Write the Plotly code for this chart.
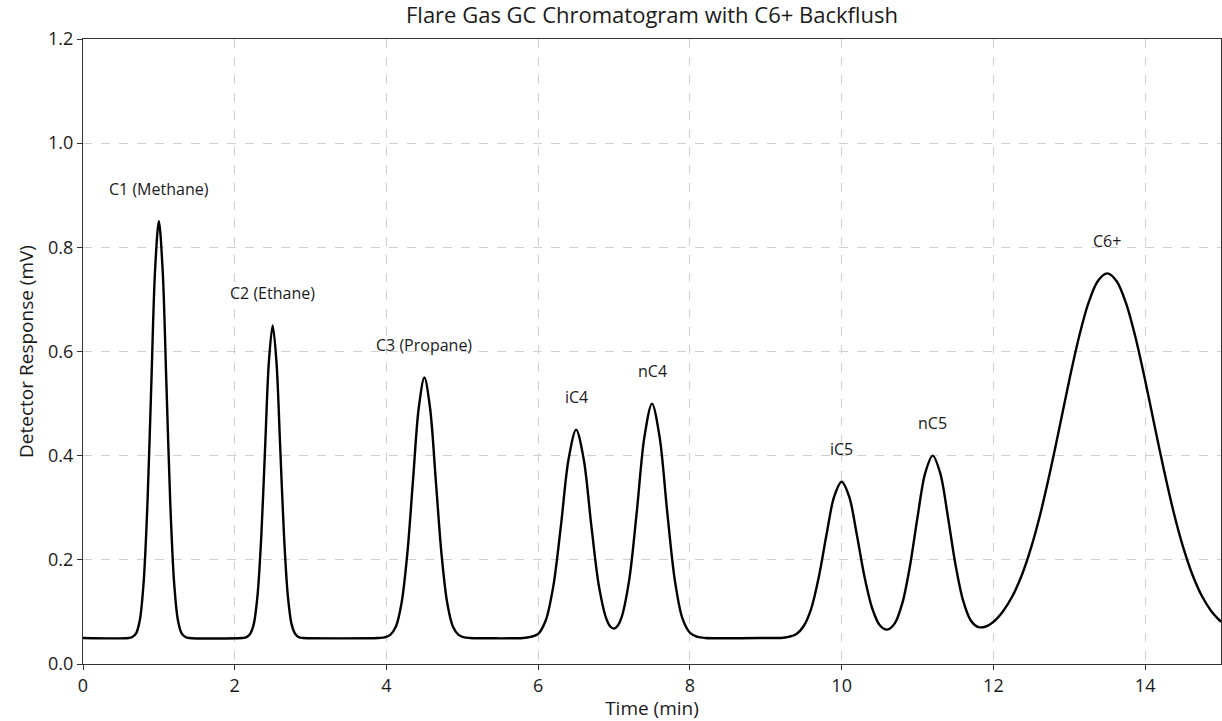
import plotly.graph_objects as go

# Detector trace (time in min, response in mV)
time_min = [
    0.0, 0.6, 0.65, 0.7, 0.75, 0.8, 0.85, 0.9, 0.95, 1.0, 1.05, 1.1, 1.15, 1.2, 1.25, 1.3, 1.35, 1.4,
    2.1, 2.15, 2.2, 2.25, 2.3, 2.35, 2.4, 2.45, 2.5, 2.55, 2.6, 2.65, 2.7, 2.75, 2.8, 2.85, 2.9,
    3.9, 3.975, 4.05, 4.125, 4.2, 4.275, 4.35, 4.425, 4.5, 4.575, 4.65, 4.725, 4.8, 4.875, 4.95, 5.025, 5.1,
    5.8, 5.9, 6.0, 6.1, 6.2, 6.3, 6.4, 6.5, 6.6, 6.7, 6.8, 6.9, 6.95, 7.0, 7.05, 7.1, 7.2, 7.3, 7.4,
    7.5, 7.6, 7.7, 7.8, 7.9, 8.0, 8.1, 8.2,
    9.1, 9.2, 9.3, 9.4, 9.5, 9.6, 9.7, 9.8, 9.9, 10.0, 10.1, 10.2, 10.3, 10.4, 10.5, 10.6, 10.7, 10.8,
    10.9, 11.0, 11.1, 11.2, 11.3, 11.4, 11.5, 11.6, 11.7, 11.8, 11.9, 12.0,
    12.125, 12.25, 12.375, 12.5, 12.625, 12.75, 12.875, 13.0, 13.125, 13.25, 13.375, 13.5,
    13.625, 13.75, 13.875, 14.0, 14.125, 14.25, 14.375, 14.5, 14.625, 14.75, 14.875, 15.0,
]
response_mv = [
    0.050, 0.050, 0.052, 0.059, 0.085, 0.158, 0.310, 0.535, 0.756, 0.850, 0.756, 0.535, 0.310, 0.158, 0.085, 0.059, 0.052, 0.050,
    0.050, 0.051, 0.057, 0.076, 0.131, 0.245, 0.414, 0.580, 0.650, 0.580, 0.414, 0.245, 0.131, 0.076, 0.057, 0.051, 0.050,
    0.050, 0.051, 0.056, 0.072, 0.118, 0.212, 0.353, 0.491, 0.550, 0.491, 0.353, 0.212, 0.118, 0.072, 0.056, 0.051, 0.050,
    0.050, 0.052, 0.058, 0.084, 0.150, 0.266, 0.393, 0.450, 0.393, 0.266, 0.150, 0.086, 0.072, 0.068, 0.074, 0.090, 0.162, 0.293, 0.436,
    0.500, 0.436, 0.293, 0.162, 0.088, 0.060, 0.052, 0.050,
    0.050, 0.050, 0.052, 0.057, 0.073, 0.107, 0.168, 0.248, 0.321, 0.350, 0.321, 0.248, 0.168, 0.108, 0.075, 0.066, 0.078, 0.117,
    0.188, 0.282, 0.366, 0.400, 0.366, 0.283, 0.191, 0.122, 0.084, 0.071, 0.072, 0.081,
    0.101, 0.130, 0.171, 0.225, 0.292, 0.371, 0.457, 0.545, 0.626, 0.692, 0.735, 0.750,
    0.735, 0.692, 0.626, 0.545, 0.457, 0.371, 0.292, 0.225, 0.171, 0.130, 0.101, 0.081,
]

# Peak labels
peak_names = ["C1 (Methane)", "C2 (Ethane)", "C3 (Propane)", "iC4", "nC4", "iC5", "nC5", "C6+"]
peak_times = [1.0, 2.5, 4.5, 6.5, 7.5, 10.0, 11.2, 13.5]
peak_heights = [0.85, 0.65, 0.55, 0.45, 0.50, 0.35, 0.40, 0.75]
label_offset = 0.062

x_ticks = [0, 2, 4, 6, 8, 10, 12, 14]
y_ticks = [0.0, 0.2, 0.4, 0.6, 0.8, 1.0, 1.2]

FONT = "Open Sans"
TXT = "#1a1a1a"

fig = go.Figure()
fig.add_trace(go.Scatter(
    x=time_min, y=response_mv, mode="lines",
    line=dict(color="black", width=2.4, shape="spline", smoothing=0.9),
    showlegend=False, hoverinfo="x+y",
))

for name, t, h in zip(peak_names, peak_times, peak_heights):
    fig.add_annotation(
        x=t, y=h + label_offset, text=name, showarrow=False,
        xanchor="center", yanchor="middle",
        font=dict(family=FONT, size=16, color=TXT),
    )

axis_common = dict(
    showline=True, linecolor="#333333", linewidth=1.3, mirror=True,
    ticks="outside", ticklen=5, tickwidth=1.1, tickcolor="#333333",
    showgrid=True, gridcolor="#d0d0d0", griddash="dash", gridwidth=1,
    zeroline=False, automargin=False,
    tickfont=dict(family=FONT, size=18, color=TXT),
)

fig.update_layout(
    width=1222, height=721,
    margin=dict(l=83, r=1, t=39, b=57),
    paper_bgcolor="white", plot_bgcolor="white",
    title=dict(
        text="Flare Gas GC Chromatogram with C6+ Backflush",
        x=(83 + 1221) / 2 / 1222, xanchor="center",
        y=1 - 15 / 721, yanchor="middle",
        font=dict(family=FONT, size=22, color=TXT),
    ),
    xaxis=dict(
        axis_common, range=[0, 15], tickvals=x_ticks,
        ticktext=[str(v) for v in x_ticks],
        title=dict(text="Time (min)", font=dict(family=FONT, size=19, color=TXT), standoff=4),
    ),
    yaxis=dict(
        axis_common, range=[0, 1.2], tickvals=y_ticks,
        ticktext=[f"{v:.1f}" for v in y_ticks],
        title=dict(text="Detector Response (mV)", font=dict(family=FONT, size=19, color=TXT), standoff=9),
    ),
)

fig.write_html(
    "out.html",
    config={"displayModeBar": False},
    post_script="document.body.style.margin='0';",
)
